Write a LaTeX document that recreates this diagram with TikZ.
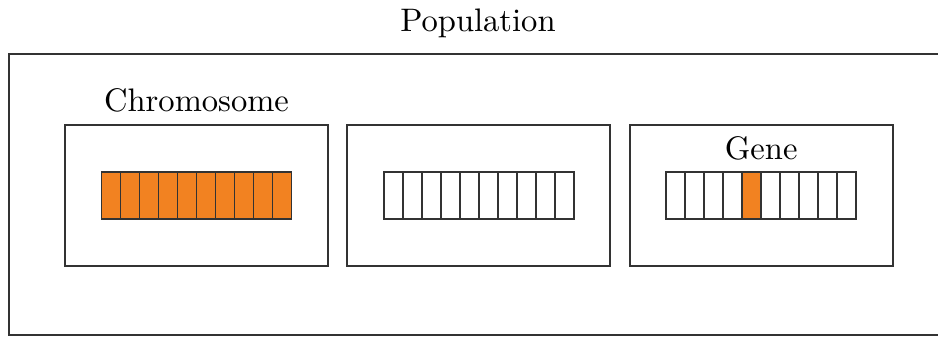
\documentclass[tikz,border=0pt]{standalone}
\usetikzlibrary{positioning}
\definecolor{geneorange}{RGB}{242,130,33}

\begin{document}
\begin{tikzpicture}[node distance=0.185cm,
  frame/.style={draw=black!80, line width=0.6pt, inner sep=0pt},
  chrom/.style={frame, minimum width=2.84cm, minimum height=1.52cm},
  gene/.style={frame, minimum width=0.205cm, minimum height=0.508cm, outer sep=0pt}]
\useasboundingbox (0,0) rectangle (10.12,-3.646);

% Population frame, running off to the right
\node[frame, minimum width=10.12cm, minimum height=3.03cm] (pop) at (5.157,-2.098) {};
\node[above=0.4mm of pop] (poplabel) {Population};

% Three chromosomes side by side
\node[chrom] (chr1) at (2.12,-2.109) {};
\node[chrom, right=of chr1] (chr2) {};
\node[chrom, right=of chr2] (chr3) {};
\node[above=0pt of chr1] (chrlabel) {Chromosome};

% Ten genes per chromosome
\foreach \c in {chr1,chr2,chr3} {
  \node[gene] (\c-g0) at ([xshift=-0.9225cm]\c.center) {};
  \foreach \i [count=\j from 1] in {0,...,8}
    \node[gene, right=0pt of \c-g\i] (\c-g\j) {};
}

% Orange genes
\foreach \i in {0,...,9}
  \node[gene, fill=geneorange] at (chr1-g\i) {};
\node[gene, fill=geneorange] at (chr3-g4) {};
\node[above=0pt of chr3-g4.north east] (genelabel) {Gene};
\end{tikzpicture}
\end{document}
